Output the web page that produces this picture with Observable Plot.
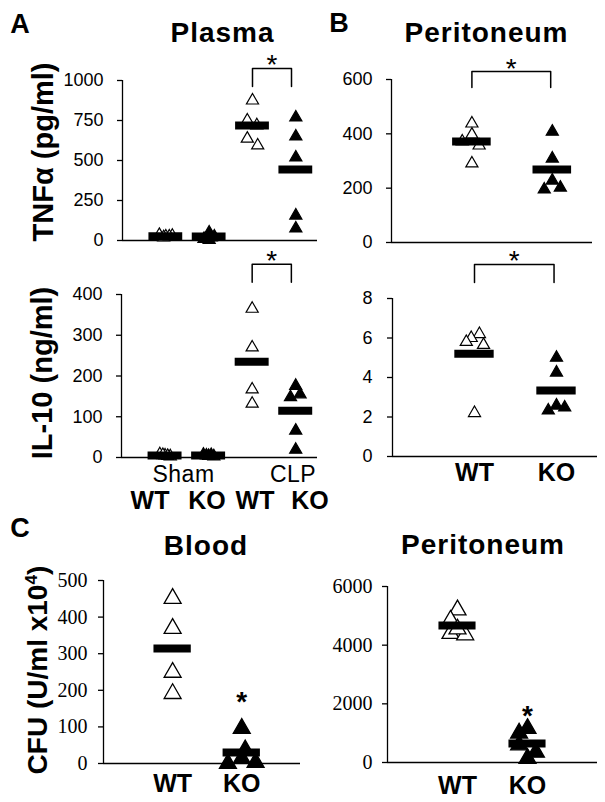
<!DOCTYPE html>
<html><head><meta charset="utf-8">
<script src="https://cdn.jsdelivr.net/npm/d3@7"></script>
<script src="https://cdn.jsdelivr.net/npm/@observablehq/plot@0.6"></script>
<style>
html,body{margin:0;padding:0;background:#fff;}
#root{position:relative;width:605px;height:802px;overflow:hidden;font-family:"Liberation Sans",Arial,sans-serif;color:#000;background:#fff;}
.t{position:absolute;transform:translate(-50%,-50%);line-height:1;white-space:nowrap;}
.t sup{font-size:0.62em;vertical-align:0.55em;line-height:0;}
</style></head><body><div id="root"></div>
<script>
// ---------- DATA ----------
const panelLetters = ["A", "B", "C"];
const panelTitles = ["Plasma", "Peritoneum", "Blood", "Peritoneum"];
const yTitles = ["TNFα (pg/ml)", "IL-10 (ng/ml)", "CFU (U/ml x10<sup>4</sup>)"];
const aGroups = ["WT", "KO", "WT", "KO"];
const aSurgery = ["Sham", "CLP"];
const bcGroups = ["WT", "KO"];
const sigMark = "*";

// A: plasma TNFα (pg/ml), groups Sham WT, Sham KO, CLP WT, CLP KO
const plasmaTNF = [
  [35, 30, 25, 20, 25],
  [50, 3, 10, 25, 20],
  [875, 750, 720, 637, 594],
  [769, 650, 519, 156, 75]
];
const plasmaTNFOffset = [
  [-0.15, 0.15, 0, -0.05, 0.08],
  [0, 0, -0.12, 0.12, 0.05],
  [0, -0.12, 0.1, -0.12, 0.12],
  [0, 0, 0, 0, 0]
];
const plasmaTNFMean = [27, 25, 719, 444];
const plasmaTNFTicks = [0, 250, 500, 750, 1000];

// A: plasma IL-10 (ng/ml)
const plasmaIL10 = [
  [8, 5, 3, 6, 4],
  [7, 4, 3, 5, 6],
  [365, 270, 167, 132],
  [176, 148, 155, 66, 19]
];
const plasmaIL10Offset = [
  [-0.12, 0, 0.12, -0.05, 0.06],
  [-0.12, 0, 0.12, -0.05, 0.06],
  [0, 0, 0, 0],
  [0, -0.12, 0.1, 0, 0]
];
const plasmaIL10Mean = [5, 5, 235, 115];
const plasmaIL10Ticks = [0, 100, 200, 300, 400];

// B: peritoneum TNFα (pg/ml), WT vs KO
const peritTNF = [
  [438, 397, 372, 357, 291],
  [408, 309, 228, 195, 202]
];
const peritTNFOffset = [
  [0, 0, -0.12, 0.09, 0],
  [0, 0, 0, -0.1, 0.1]
];
const peritTNFMean = [372, 269];
const peritTNFTicks = [0, 200, 400, 600];

// B: peritoneum IL-10 (ng/ml)
const peritIL10 = [
  [6.2, 6.0, 5.8, 5.65, 2.2],
  [5.0, 4.25, 2.33, 2.58, 2.48]
];
const peritIL10Offset = [
  [0.06, -0.04, -0.1, 0.11, 0],
  [0, 0, -0.1, 0, 0.1]
];
const peritIL10Mean = [5.2, 3.34];
const peritIL10Ticks = [0, 2, 4, 6, 8];

// C: CFU blood (U/ml x10^4)
const bloodCFU = [
  [451, 369, 249, 191],
  [96, 37, 0, 14, 3]
];
const bloodCFUOffset = [
  [0, 0, 0, 0],
  [0, 0.05, -0.2, 0, 0.2]
];
const bloodCFUMean = [314, 30];
const bloodCFUTicks = [0, 100, 200, 300, 400, 500];

// C: CFU peritoneum
const peritCFU = [
  [5200, 4850, 4400, 4350, 4550],
  [1160, 1000, 600, 350, 140]
];
const peritCFUOffset = [
  [0, -0.1, -0.1, 0.11, 0],
  [0, -0.12, -0.12, 0.12, 0]
];
const peritCFUMean = [4670, 650];
const peritCFUTicks = [0, 2000, 4000, 6000];

// ---------- DRAW ----------
const root = document.getElementById("root");
const SANS = "Liberation Sans, Arial, sans-serif";
const SERIF = "Liberation Serif, Times New Roman, serif";

function scatter(cfg) {
  const pts = [];
  cfg.values.forEach((vals, g) => vals.forEach((v, i) =>
    pts.push({x: g + 1 + cfg.offsets[g][i], v, open: g % 2 === 0})));
  const means = cfg.means.map((v, g) => ({x: g + 1, v}));
  const yMax = cfg.ticks[cfg.ticks.length - 1];
  const marks = [
    Plot.ruleY([0], {stroke: "black", strokeWidth: 1.3}),
    Plot.ruleX([0], {y1: 0, y2: yMax, stroke: "black", strokeWidth: 1.3}),
    Plot.axisY({ticks: cfg.ticks, tickSize: 5, tickPadding: cfg.tickPad, tickFormat: d => String(d),
      fontSize: cfg.tickFont, fontFamily: cfg.tickFamily, label: null, strokeWidth: 1.3}),
    Plot.dot(pts.filter(d => d.open), {x: "x", y: "v", symbol: "triangle", r: cfg.r, fill: "white", stroke: "black", strokeWidth: cfg.sw}),
    Plot.dot(pts.filter(d => !d.open), {x: "x", y: "v", symbol: "triangle", r: cfg.r, fill: "black", stroke: "black", strokeWidth: cfg.sw}),
    Plot.ruleY(means, {y: "v", x1: d => d.x - cfg.halfW, x2: d => d.x + cfg.halfW, stroke: "black", strokeWidth: 8})
  ];
  if (cfg.bracket) {
    const b = cfg.bracket;
    const bp = [{x: b.a, y: b.lo}, {x: b.a, y: b.hi}, {x: b.b, y: b.hi}, {x: b.b, y: b.lo}];
    marks.push(Plot.line(bp, {x: "x", y: "y", stroke: "black", strokeWidth: 1.5}));
    marks.push(Plot.text([{x: (b.a + b.b) / 2, y: b.hi}], {x: "x", y: "y", text: () => sigMark,
      fontSize: 28, fontFamily: SANS, dy: -3}));
  }
  if (cfg.star) {
    marks.push(Plot.text([cfg.star], {x: "x", y: "y", text: () => sigMark,
      fontSize: 28, fontWeight: "bold", fontFamily: SANS}));
  }
  const xOpt = {domain: [0, cfg.xMax]};
  if (cfg.labels) {
    marks.push(Plot.axisX({ticks: cfg.labels.map((_, i) => i + 1), tickFormat: d => cfg.labels[d - 1],
      tickSize: 0, tickPadding: cfg.labelPad, fontSize: 25, fontWeight: "bold", fontFamily: SANS, label: null}));
  } else {
    xOpt.axis = null;
  }
  const svg = Plot.plot({
    width: cfg.width, height: cfg.height,
    marginLeft: cfg.ml, marginRight: cfg.mr, marginTop: cfg.mt, marginBottom: cfg.mb,
    x: xOpt,
    y: {domain: [0, yMax]},
    style: {background: "transparent", overflow: "visible", fontFamily: SANS,
      color: "black", position: "absolute", left: cfg.left + "px", top: cfg.top + "px", maxWidth: "none"},
    marks
  });
  root.appendChild(svg);
}

// A top
scatter({left: 0, top: 40, width: 330, height: 215, ml: 122, mr: 13, mt: 40, mb: 15, xMax: 4.5,
  values: plasmaTNF, offsets: plasmaTNFOffset, means: plasmaTNFMean, ticks: plasmaTNFTicks,
  tickPad: 14, tickFont: 18, tickFamily: SANS, r: 4.5, sw: 1.2, halfW: 0.39,
  bracket: {a: 3, b: 3.9, hi: 1075, lo: 962}});
// A bottom
scatter({left: 0, top: 250, width: 330, height: 220, ml: 121, mr: 13, mt: 44, mb: 13, xMax: 4.5,
  values: plasmaIL10, offsets: plasmaIL10Offset, means: plasmaIL10Mean, ticks: plasmaIL10Ticks,
  tickPad: 14, tickFont: 18, tickFamily: SANS, r: 4.5, sw: 1.2, halfW: 0.39,
  bracket: {a: 3, b: 3.9, hi: 474, lo: 430}});
// B top
scatter({left: 330, top: 40, width: 275, height: 215, ml: 61, mr: 13, mt: 39, mb: 13, xMax: 2.5,
  values: peritTNF, offsets: peritTNFOffset, means: peritTNFMean, ticks: peritTNFTicks,
  tickPad: 14, tickFont: 18, tickFamily: SANS, r: 4.5, sw: 1.2, halfW: 0.24,
  bracket: {a: 1, b: 1.98, hi: 629, lo: 571}});
// B bottom
scatter({left: 330, top: 250, width: 275, height: 240, ml: 62, mr: 8, mt: 48, mb: 34, xMax: 2.5,
  values: peritIL10, offsets: peritIL10Offset, means: peritIL10Mean, ticks: peritIL10Ticks,
  tickPad: 15, tickFont: 18, tickFamily: SANS, r: 4.5, sw: 1.2, halfW: 0.24,
  bracket: {a: 1, b: 1.97, hi: 9.72, lo: 8.81}, labels: bcGroups, labelPad: 6.5});
// C blood
scatter({left: 0, top: 560, width: 310, height: 240, ml: 103, mr: 10, mt: 20, mb: 37, xMax: 2.85,
  values: bloodCFU, offsets: bloodCFUOffset, means: bloodCFUMean, ticks: bloodCFUTicks,
  tickPad: 11, tickFont: 20, tickFamily: SERIF, r: 6.3, sw: 1.3, halfW: 0.27,
  star: {x: 2, y: 167}, labels: bcGroups, labelPad: 10.5});
// C peritoneum
scatter({left: 310, top: 560, width: 295, height: 240, ml: 77, mr: 8, mt: 26, mb: 38, xMax: 3,
  values: peritCFU, offsets: peritCFUOffset, means: peritCFUMean, ticks: peritCFUTicks,
  tickPad: 10, tickFont: 20, tickFamily: SERIF, r: 6.3, sw: 1.3, halfW: 0.265,
  star: {x: 2, y: 1568}, labels: bcGroups, labelPad: 13.5});

// ---------- TEXT ----------
function label(html, cx, cy, css) {
  const d = document.createElement("div");
  d.className = "t";
  d.innerHTML = html;
  d.style.left = cx + "px";
  d.style.top = cy + "px";
  Object.assign(d.style, css);
  root.appendChild(d);
}
const letterCss = {fontSize: "27px", fontWeight: "bold"};
label(panelLetters[0], 20, 23.5, letterCss);
label(panelLetters[1], 339, 22.5, letterCss);
label(panelLetters[2], 20, 528, letterCss);

const titleCss = {fontSize: "28px", fontWeight: "bold", letterSpacing: "1px"};
label(panelTitles[0], 222.5, 32.5, titleCss);
label(panelTitles[1], 486.5, 32.5, titleCss);
label(panelTitles[2], 206, 546, titleCss);
label(panelTitles[3], 483, 545, titleCss);

const yCss = {fontSize: "29px", fontWeight: "bold", transform: "translate(-50%,-50%) rotate(-90deg)"};
label(yTitles[0], 43, 152, yCss);
label(yTitles[1], 42, 373, yCss);
label(yTitles[2], 38, 670, Object.assign({}, yCss, {fontSize: "28px"}));

const surgCss = {fontSize: "23px", letterSpacing: "0.5px"};
label(aSurgery[0], 183.5, 473.5, surgCss);
label(aSurgery[1], 293, 473.5, surgCss);
const grpCss = {fontSize: "25px", fontWeight: "bold"};
[150, 207, 255, 310].forEach((cx, i) => label(aGroups[i], cx, 500, grpCss));
</script></body></html>
